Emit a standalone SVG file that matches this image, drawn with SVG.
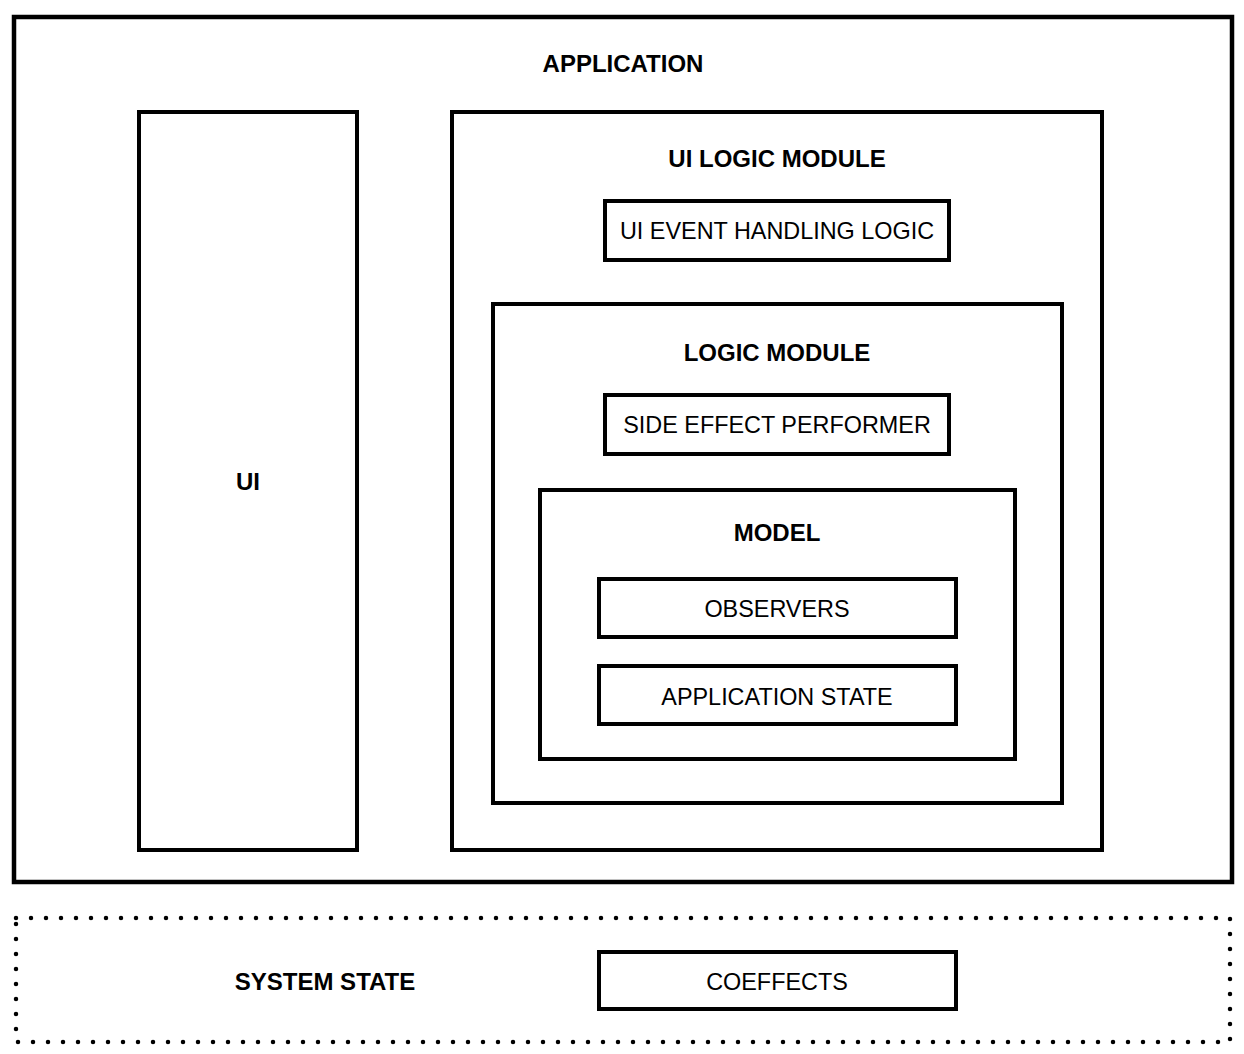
<svg xmlns="http://www.w3.org/2000/svg" width="1244" height="1054" viewBox="0 0 1244 1054">
<style>
.b{fill:none;stroke:#000;stroke-width:4}
.o{fill:none;stroke:#000;stroke-width:4.5}
.d{fill:none;stroke:#000;stroke-width:4.5;stroke-dasharray:0 15;stroke-linecap:round}
text{font-family:"Liberation Sans",Arial,sans-serif;font-size:23.4px;text-anchor:middle;fill:#000}
.t{font-weight:bold;font-size:24px}
</style>
<rect width="1244" height="1054" fill="#fff"/>
<g id="application"><rect class="o" x="14" y="17" width="1218" height="865"/><text class="t" x="623" y="72">APPLICATION</text></g>
<g id="ui"><rect class="b" x="139" y="112" width="218" height="738"/><text class="t" x="248" y="490">UI</text></g>
<g id="ui-logic-module"><rect class="b" x="452" y="112" width="650" height="738"/><text class="t" x="777" y="167">UI LOGIC MODULE</text></g>
<g id="ui-event-handling-logic"><rect class="b" x="605" y="201" width="344" height="59"/><text x="777" y="239">UI EVENT HANDLING LOGIC</text></g>
<g id="logic-module"><rect class="b" x="493" y="304" width="569" height="499"/><text class="t" x="777" y="361">LOGIC MODULE</text></g>
<g id="side-effect-performer"><rect class="b" x="605" y="395" width="344" height="59"/><text x="777" y="433">SIDE EFFECT PERFORMER</text></g>
<g id="model"><rect class="b" x="540" y="490" width="475" height="269"/><text class="t" x="777" y="541">MODEL</text></g>
<g id="observers"><rect class="b" x="599" y="579" width="357" height="58"/><text x="777" y="617">OBSERVERS</text></g>
<g id="application-state"><rect class="b" x="599" y="666" width="357" height="58"/><text x="777" y="705">APPLICATION STATE</text></g>
<g id="system-state"><rect class="d" x="16" y="918" width="1214" height="124"/><text class="t" x="325" y="990">SYSTEM STATE</text></g>
<g id="coeffects"><rect class="b" x="599" y="952" width="357" height="57"/><text x="777" y="990">COEFFECTS</text></g>
<g id="connectors"></g>
</svg>
